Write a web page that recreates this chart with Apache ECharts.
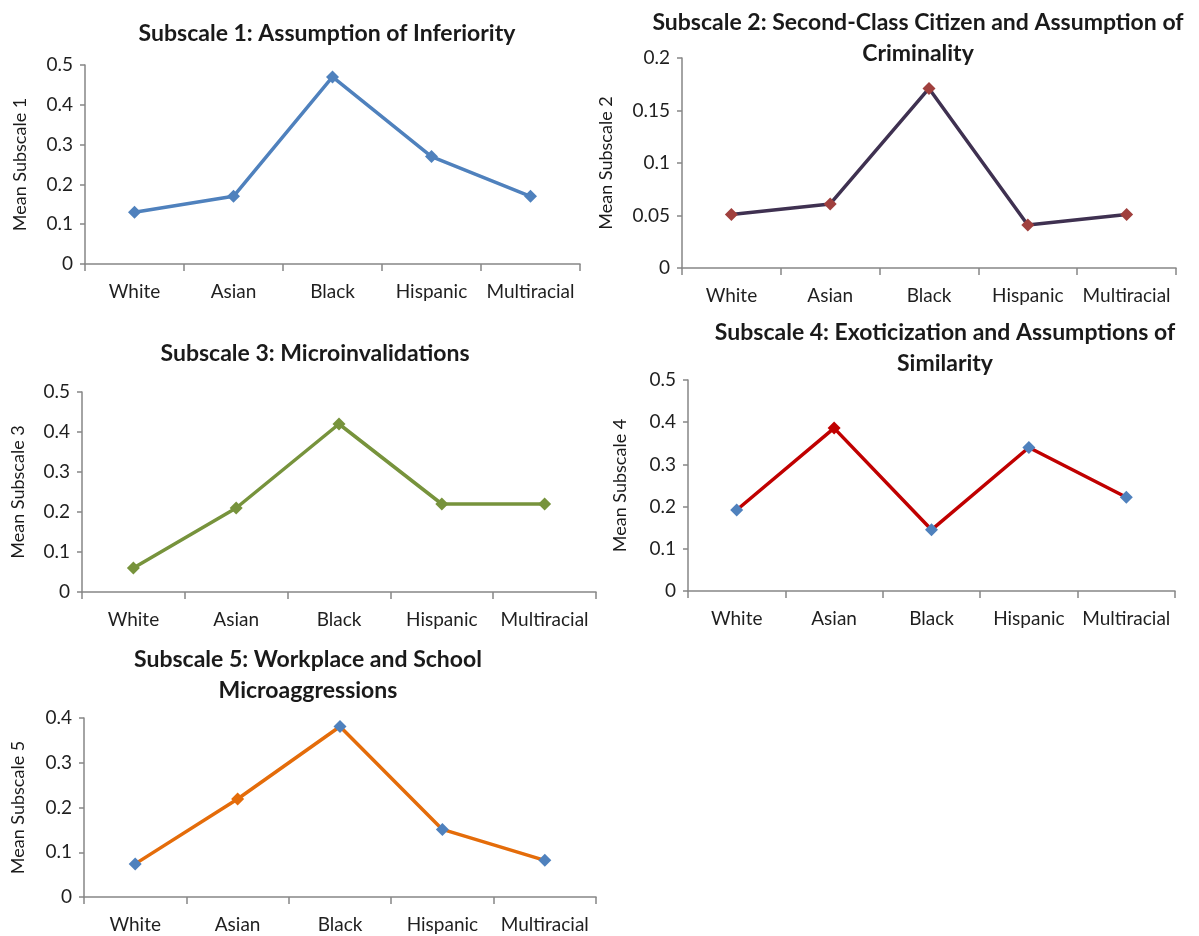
<!DOCTYPE html>
<html>
<head>
<meta charset="utf-8">
<script src="https://cdn.jsdelivr.net/npm/echarts@6/dist/echarts.min.js"></script>
<style>
  html, body { margin: 0; padding: 0; background: #ffffff; }
  #chart { width: 1199px; height: 936px; }
</style>
</head>
<body>
<div id="chart"></div>
<script>
// Racial groups shown on every panel
const categories = ['White', 'Asian', 'Black', 'Hispanic', 'Multiracial'];

// Mean scores per subscale
const subscale1 = [0.13, 0.17, 0.47, 0.27, 0.17];
const subscale2 = [0.051, 0.061, 0.171, 0.041, 0.051];
const subscale3 = [0.06, 0.21, 0.42, 0.22, 0.22];
const subscale4 = [0.192, 0.386, 0.145, 0.34, 0.222];
const subscale5 = [0.074, 0.219, 0.381, 0.151, 0.082];

const titles = [
  'Subscale 1: Assumption of Inferiority',
  'Subscale 2: Second-Class Citizen and Assumption of\nCriminality',
  'Subscale 3: Microinvalidations',
  'Subscale 4: Exoticization and Assumptions of\nSimilarity',
  'Subscale 5: Workplace and School\nMicroaggressions'
];
const yNames = ['Mean Subscale 1', 'Mean Subscale 2', 'Mean Subscale 3', 'Mean Subscale 4', 'Mean Subscale 5'];
const yMax = [0.5, 0.2, 0.5, 0.5, 0.4];
const yStep = [0.1, 0.05, 0.1, 0.1, 0.1];

const FONT = 'Lato, "Open Sans", sans-serif';
const BLUE_MARK = '#4f81bd';

// panel layout: grid box and title anchor
const panels = [
  { grid: { left: 85, top: 65, width: 495, height: 199 }, titleX: 322, titleY: 13, nameGap: 56,
    line: '#4f81bd', marks: [BLUE_MARK, BLUE_MARK, BLUE_MARK, BLUE_MARK, BLUE_MARK], data: subscale1 },
  { grid: { left: 682, top: 58, width: 494, height: 210 }, titleX: 913, titleY: 2, nameGap: 67,
    line: '#3f3151', marks: ['#a0403e', '#a0403e', '#a0403e', '#a0403e', '#a0403e'], data: subscale2 },
  { grid: { left: 82, top: 392, width: 514, height: 200 }, titleX: 310, titleY: 333, nameGap: 55,
    line: '#77933c', marks: ['#77933c', '#77933c', '#77933c', '#77933c', '#77933c'], data: subscale3 },
  { grid: { left: 688, top: 380, width: 487, height: 211 }, titleX: 940, titleY: 312, nameGap: 59,
    line: '#c00000', marks: [BLUE_MARK, '#c00000', BLUE_MARK, BLUE_MARK, BLUE_MARK], data: subscale4 },
  { grid: { left: 84, top: 718, width: 512, height: 179 }, titleX: 303, titleY: 639, nameGap: 57,
    line: '#e46c0a', marks: [BLUE_MARK, '#e46c0a', BLUE_MARK, BLUE_MARK, BLUE_MARK], data: subscale5 }
];

const axisLine = { show: true, lineStyle: { color: '#868686', width: 1.5 } };
const labelStyle = { color: '#1f1f1f', fontFamily: FONT, fontSize: 19 };

const option = {
  backgroundColor: '#ffffff',
  animation: false,
  title: panels.map((p, i) => ({
    text: titles[i],
    left: p.titleX,
    top: p.titleY,
    textAlign: 'center',
    textStyle: { fontFamily: FONT, fontWeight: 'bold', fontSize: 23, color: '#1a1a1a', lineHeight: 31 }
  })),
  grid: panels.map(p => Object.assign({ containLabel: false }, p.grid)),
  xAxis: panels.map((p, i) => ({
    type: 'category',
    gridIndex: i,
    data: categories,
    boundaryGap: true,
    axisLine: axisLine,
    axisTick: { show: true, length: 7, lineStyle: { color: '#868686', width: 1.5 } },
    axisLabel: Object.assign({ margin: 18, interval: 0 }, labelStyle),
    splitLine: { show: false }
  })),
  yAxis: panels.map((p, i) => ({
    type: 'value',
    gridIndex: i,
    min: 0,
    max: yMax[i],
    interval: yStep[i],
    name: yNames[i],
    nameLocation: 'middle',
    nameGap: p.nameGap,
    nameRotate: 90,
    nameTextStyle: { color: '#1a1a1a', fontFamily: FONT, fontSize: 18 },
    axisLine: axisLine,
    axisTick: { show: true, length: 5, lineStyle: { color: '#868686', width: 1.5 } },
    axisLabel: Object.assign({ margin: 12 }, labelStyle),
    splitLine: { show: false }
  })),
  series: panels.map((p, i) => ({
    type: 'line',
    xAxisIndex: i,
    yAxisIndex: i,
    data: p.data.map((v, j) => ({ value: v, itemStyle: { color: p.marks[j] } })),
    symbol: 'diamond',
    symbolSize: 13,
    lineStyle: { color: p.line, width: 3.5 },
    itemStyle: { color: p.line },
    z: 3
  }))
};

const chart = echarts.init(document.getElementById('chart'), null, { renderer: 'canvas' });
chart.setOption(option);
</script>
</body>
</html>
